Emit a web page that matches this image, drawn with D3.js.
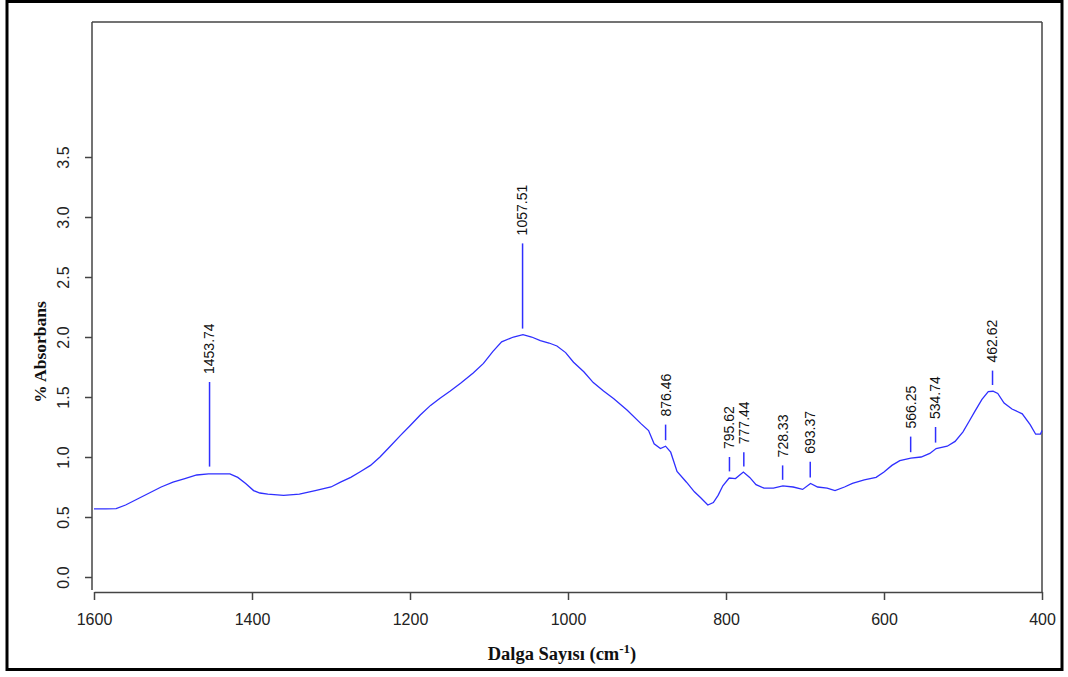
<!DOCTYPE html>
<html>
<head>
<meta charset="utf-8">
<script src="https://cdn.jsdelivr.net/npm/d3@7"></script>
<style>
  body { margin: 0; background: #fff; }
  svg { display: block; }
</style>
</head>
<body>
<svg id="chart" width="1068" height="677"></svg>
<script>
// spectrum, wavenumber (cm-1) and absorbance
const wavenumbers = [
  1600, 1585, 1572, 1560, 1545, 1530, 1515, 1500, 1485, 1470, 1455, 1440, 1428,
  1418, 1408, 1398, 1390, 1380, 1360, 1340, 1320, 1300, 1288, 1275, 1263, 1250,
  1238, 1225, 1212, 1200, 1187, 1174, 1162, 1149, 1136, 1120, 1107, 1095, 1084,
  1069, 1057, 1046, 1035, 1024, 1014, 1003, 993, 980, 968, 955, 942, 925, 908,
  898, 891, 883, 876.5, 870, 862, 850, 840, 832, 823, 816, 810, 804, 796, 788,
  778, 770, 762, 752, 740, 728, 715, 703, 693, 684, 672, 662, 650, 640, 625,
  610, 600, 590, 580, 566, 553, 542, 534, 520, 510, 500, 492, 485, 476, 468,
  462, 456, 448, 438, 425, 415, 408, 402, 400
];
const absorbance = [
  0.567, 0.567, 0.57, 0.6, 0.65, 0.7, 0.75, 0.79, 0.82, 0.85, 0.86, 0.86, 0.86,
  0.83, 0.78, 0.72, 0.7, 0.69, 0.68, 0.69, 0.72, 0.75, 0.79, 0.83, 0.877, 0.93,
  1.0, 1.09, 1.18, 1.26, 1.35, 1.43, 1.49, 1.55, 1.614, 1.7, 1.78, 1.88, 1.96,
  2.0, 2.02, 2.0, 1.97, 1.95, 1.925, 1.87, 1.79, 1.71, 1.62, 1.55, 1.485, 1.39, 1.28,
  1.22, 1.11, 1.07, 1.09, 1.04, 0.88, 0.79, 0.71, 0.66, 0.6, 0.62, 0.68, 0.76, 0.825, 0.82,
  0.875, 0.83, 0.77, 0.74, 0.74, 0.76, 0.75, 0.73, 0.78, 0.75, 0.74, 0.72, 0.75, 0.78, 0.81,
  0.83, 0.875, 0.93, 0.97, 0.99, 1.0, 1.03, 1.07, 1.09, 1.13, 1.21, 1.3, 1.38, 1.48, 1.545,
  1.548, 1.53, 1.45, 1.4, 1.36, 1.27, 1.19, 1.19, 1.22
];

// marked peaks: position, curve value under the mark, top of the mark
const peakWn = [1453.74, 1057.51, 876.46, 795.62, 777.44, 728.33, 693.37, 566.25, 534.74, 462.62];
const peakAbs = [0.87, 2.02, 1.09, 0.83, 0.87, 0.76, 0.78, 0.99, 1.07, 1.55];
const peakTop = [1.625, 2.78, 1.27, 1.0, 1.04, 0.93, 0.96, 1.17, 1.25, 1.72];

const xTicks = [1600, 1400, 1200, 1000, 800, 600, 400];
const yTicks = [0, 0.5, 1, 1.5, 2, 2.5, 3, 3.5];

const svg = d3.select("#chart");
const frameLeft = 92;
const frameRight = 1042;
const frameTop = 22;
const axisY = 592;

const x = d3.scaleLinear().domain([1600, 400]).range([94, 1042]);
const y = d3.scaleLinear().domain([0, 3.5]).range([577, 157]);

// outer black border
svg
  .append("rect")
  .attr("x", 7)
  .attr("y", 1.5)
  .attr("width", 1055)
  .attr("height", 668)
  .attr("fill", "white")
  .attr("stroke", "black")
  .attr("stroke-width", 3);

// plot frame
const frame = svg.append("g").attr("stroke", "#444").attr("stroke-width", 1.5);
frame.append("line").attr("x1", frameLeft).attr("x2", frameRight).attr("y1", frameTop).attr("y2", frameTop);
frame.append("line").attr("x1", frameLeft).attr("x2", frameLeft).attr("y1", frameTop).attr("y2", axisY - 2);
frame.append("line").attr("x1", frameRight).attr("x2", frameRight).attr("y1", frameTop).attr("y2", axisY);

// x axis
const xAxis = svg
  .append("g")
  .attr("transform", `translate(0,${axisY})`)
  .call(
    d3.axisBottom(x).tickValues(xTicks).tickSize(8).tickSizeOuter(0).tickPadding(14).tickFormat(d3.format("d"))
  );
xAxis.select(".domain").attr("stroke", "#444").attr("stroke-width", 1.5);
xAxis.selectAll(".tick line").attr("stroke", "#444").attr("stroke-width", 1.5);
xAxis
  .selectAll(".tick text")
  .attr("font-family", "Liberation Sans, Arial, sans-serif")
  .attr("font-size", "16px")
  .attr("fill", "#222");

// y axis, labels turned
const yAxis = svg
  .append("g")
  .attr("transform", `translate(${frameLeft},0)`)
  .call(d3.axisLeft(y).tickValues(yTicks).tickSize(7).tickFormat(d3.format(".1f")));
yAxis.select(".domain").remove();
yAxis.selectAll(".tick line").attr("stroke", "#444").attr("stroke-width", 1.5);
yAxis
  .selectAll(".tick text")
  .attr("font-family", "Liberation Sans, Arial, sans-serif")
  .attr("font-size", "16px")
  .attr("fill", "#222")
  .attr("text-anchor", "middle")
  .attr("x", null)
  .attr("transform", "translate(-29,0) rotate(-90)")
  .attr("dy", "0.35em");

// spectrum
const points = wavenumbers.map((w, i) => [w, absorbance[i]]);
svg
  .append("path")
  .datum(points)
  .attr("fill", "none")
  .attr("stroke", "#2f2fff")
  .attr("stroke-width", 1.3)
  .attr("d", d3.line().x((d) => x(d[0])).y((d) => y(d[1])));

// peak marks
peakWn.forEach((w, i) => {
  const px = x(w);
  const bottom = y(peakAbs[i]) - 6;
  const top = y(peakTop[i]);
  svg
    .append("line")
    .attr("x1", px)
    .attr("x2", px)
    .attr("y1", bottom)
    .attr("y2", top)
    .attr("stroke", "#2f2fff")
    .attr("stroke-width", 1.5);
  svg
    .append("text")
    .attr("transform", `translate(${px},${top - 8}) rotate(-90)`)
    .attr("dy", "0.35em")
    .attr("font-family", "Liberation Sans, Arial, sans-serif")
    .attr("font-size", "14px")
    .attr("fill", "#111")
    .text(w.toFixed(2));
});

// axis titles
const xTitle = svg
  .append("text")
  .attr("x", 562)
  .attr("y", 660)
  .attr("text-anchor", "middle")
  .attr("font-family", "Liberation Serif, Times New Roman, serif")
  .attr("font-weight", "bold")
  .attr("font-size", "18.5px")
  .attr("fill", "#111");
xTitle.append("tspan").text("Dalga Sayısı (cm");
xTitle.append("tspan").attr("dy", -7).attr("font-size", "13px").text("-1");
xTitle.append("tspan").attr("dy", 7).text(")");

svg
  .append("text")
  .attr("transform", "translate(40,352) rotate(-90)")
  .attr("dy", "0.35em")
  .attr("text-anchor", "middle")
  .attr("font-family", "Liberation Serif, Times New Roman, serif")
  .attr("font-weight", "bold")
  .attr("font-size", "17.5px")
  .attr("fill", "#111")
  .text("% Absorbans");
</script>
</body>
</html>
